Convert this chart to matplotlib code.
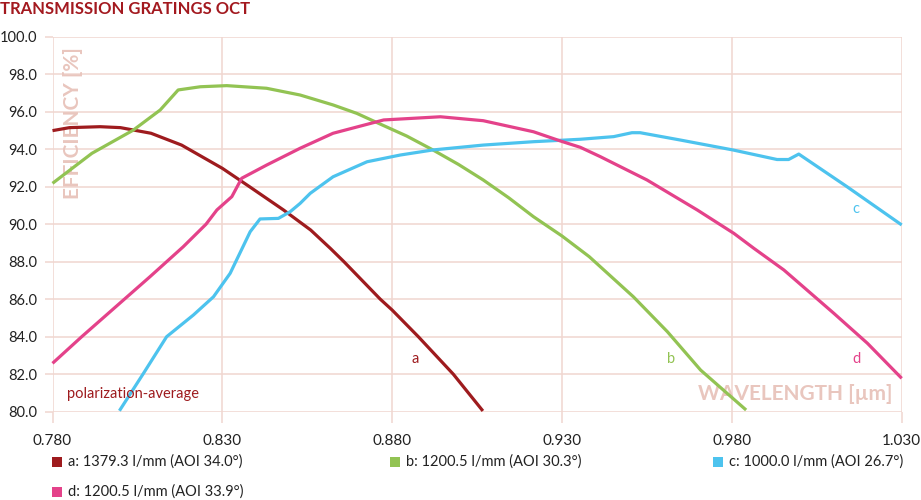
import matplotlib
matplotlib.use("Agg")
import matplotlib.pyplot as plt
from matplotlib.patches import Rectangle

plt.rcParams['font.family'] = ['Lato', 'DejaVu Sans']

# ---- data ----
a_wl = [0.780, 0.785, 0.794, 0.800, 0.809, 0.818, 0.830, 0.838, 0.848, 0.856, 0.8618, 0.8658, 0.8765,
        0.880, 0.8877, 0.898, 0.9067]
a_eff = [94.99, 95.15, 95.20, 95.15, 94.85, 94.22, 92.98, 92.00, 90.76, 89.69, 88.71, 88.00, 86.00,
         85.42, 84.00, 82.00, 80.04]

b_wl = [0.780, 0.7916, 0.8038, 0.8117, 0.817, 0.8235, 0.8313, 0.843, 0.8529, 0.8626, 0.8696, 0.876,
        0.8843, 0.892, 0.8995, 0.9068, 0.9143, 0.9216, 0.930, 0.938, 0.951, 0.961, 0.9708, 0.9842]
b_eff = [92.18, 93.78, 95.02, 96.09, 97.16, 97.33, 97.39, 97.25, 96.89, 96.36, 95.91, 95.38,
         94.70, 93.96, 93.19, 92.36, 91.41, 90.40, 89.37, 88.27, 86.13, 84.27, 82.22, 80.09]

c_wl = [0.7997, 0.8068, 0.8136, 0.8215, 0.8274, 0.8323, 0.8382, 0.8411, 0.8465, 0.850, 0.8529, 0.8559,
        0.8626, 0.8726, 0.8824, 0.892, 0.9068, 0.9216, 0.9354, 0.9452, 0.9506, 0.953, 0.9648, 0.9803,
        0.9933, 0.9967, 0.9997, 1.0139, 1.030]
c_eff = [80.05, 82.05, 84.00, 85.16, 86.13, 87.38, 89.60, 90.28, 90.31, 90.67, 91.11, 91.65,
         92.53, 93.33, 93.69, 93.96, 94.22, 94.40, 94.53, 94.67, 94.88, 94.88, 94.49, 93.96,
         93.45, 93.45, 93.74, 92.00, 89.96]

d_wl = [0.780, 0.7886, 0.7989, 0.8087, 0.8136, 0.8185, 0.8252, 0.8284, 0.8328, 0.8357, 0.8431, 0.8529,
        0.8626, 0.8775, 0.8942, 0.9068, 0.9216, 0.9295, 0.9354, 0.9413, 0.955, 0.9698, 0.9806, 0.9865,
        0.9953, 1.010, 1.0199, 1.030]
d_eff = [82.58, 84.00, 85.64, 87.20, 88.00, 88.80, 90.00, 90.76, 91.47, 92.45, 93.16, 94.05,
         94.85, 95.56, 95.73, 95.52, 94.93, 94.44, 94.10, 93.60, 92.36, 90.76, 89.51, 88.71,
         87.56, 85.25, 83.65, 81.78]

series_keys = ['a', 'b', 'c', 'd']
legend_labels = ['a: 1379.3 l/mm (AOI 34.0°)', 'b: 1200.5 l/mm (AOI 30.3°)',
                 'c: 1000.0 l/mm (AOI 26.7°)', 'd: 1200.5 l/mm (AOI 33.9°)']
x_ticks = [0.780, 0.830, 0.880, 0.930, 0.980, 1.030]
y_ticks = [80.0, 82.0, 84.0, 86.0, 88.0, 90.0, 92.0, 94.0, 96.0, 98.0, 100.0]

# label positions for inline letters
label_pos = {'a': (0.8868, 82.8), 'b': (0.962, 82.8), 'c': (1.0164, 90.8), 'd': (1.0167, 82.8)}

colors = {'a': '#9E1B1E', 'b': '#92C353', 'c': '#4DC3EE', 'd': '#E4428A'}
grid_c = '#F0D6D0'
axis_lab_c = '#E9C6BE'
text_c = '#222222'

fig = plt.figure(figsize=(9.21, 5), dpi=100)
W, H = 921, 500
L, R, T, B = 52.5, 901.7, 36.7, 411.7
ax = fig.add_axes([L / W, 1 - B / H, (R - L) / W, (B - T) / H])
ax.set_xlim(0.780, 1.030)
ax.set_ylim(80, 100)
for s in ax.spines.values():
    s.set_visible(False)
ax.set_xticks(x_ticks)
ax.set_xticklabels([f"{v:.3f}" for v in x_ticks])
ax.set_yticks(y_ticks)
ax.set_yticklabels([f"{v:.1f}" for v in y_ticks])
ax.tick_params(axis='x', length=8, width=1.1, color=grid_c, pad=8, labelsize=11, labelcolor=text_c)
ax.tick_params(axis='y', length=6, width=1.1, color=grid_c, pad=5, labelsize=10.5, labelcolor=text_c)
ax.grid(True, color=grid_c, linewidth=1.1)
ax.set_axisbelow(True)

data = {'a': (a_wl, a_eff), 'b': (b_wl, b_eff), 'c': (c_wl, c_eff), 'd': (d_wl, d_eff)}
for k in series_keys:
    x, y = data[k]
    ax.plot(x, y, color=colors[k], linewidth=2.3, solid_joinstyle='round', solid_capstyle='butt',
            clip_on=False, zorder=3)
    lx, ly = label_pos[k]
    ax.text(lx, ly, k, color=colors[k], fontsize=10.5, ha='center', va='center', zorder=4)

ax.text(0.7842, 80.95, 'polarization-average', color=colors['a'], fontsize=10.5,
        ha='left', va='center', zorder=4)

ax.text(0.024, 0.771, 'EFFICIENCY [%]', transform=ax.transAxes, rotation=90, ha='center',
        va='center', color=axis_lab_c, fontsize=15, fontweight='bold', zorder=1)
ax.text(0.989, 0.047, 'WAVELENGTH [µm]', transform=ax.transAxes, ha='right', va='center',
        color=axis_lab_c, fontsize=15, fontweight='bold', zorder=1)

fig.text(0.0, 1 - 9.5 / H, 'TRANSMISSION GRATINGS OCT', color='#A3191F', fontsize=12,
         fontweight='bold', ha='left', va='center')

# legend (manual layout, 3 per row)
leg_pos = [(52, 461.5), (389.5, 461.5), (712.7, 461.5), (52, 492)]
for k, lab, (px, py) in zip(series_keys, legend_labels, leg_pos):
    fig.add_artist(Rectangle((px / W, 1 - (py + 5) / H), 10 / W, 10 / H,
                             transform=fig.transFigure, facecolor=colors[k], edgecolor='none'))
    fig.text((px + 16) / W, 1 - py / H, lab, color=text_c, fontsize=10.5, ha='left', va='center')

fig.savefig('out.png', dpi=100)
